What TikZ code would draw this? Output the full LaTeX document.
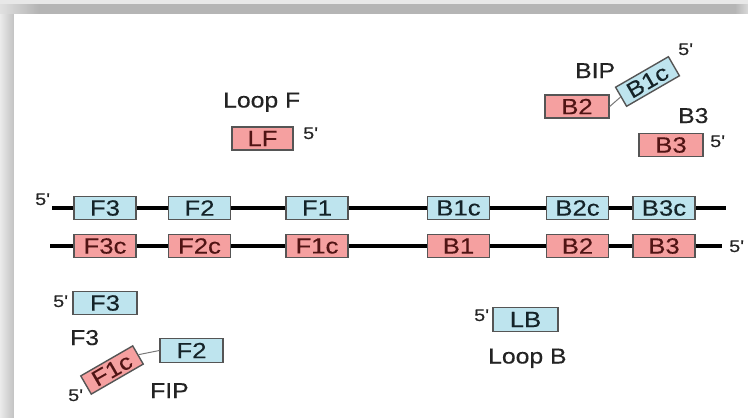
\documentclass[tikz,border=0pt]{standalone}
\usepackage{fontspec}
\setmainfont[FakeStretch=1.15,FakeBold=0.3]{Liberation Sans}
\newfontfamily\boxfont[FakeStretch=1.17,FakeBold=0.3]{Liberation Sans}
\definecolor{boxblue}{RGB}{190,228,238}
\definecolor{boxpink}{RGB}{245,160,160}
\definecolor{boxedge}{RGB}{85,85,85}
\definecolor{pinktext}{RGB}{80,20,20}
\definecolor{bluetext}{RGB}{20,35,40}
\definecolor{lbltext}{RGB}{35,35,35}
\begin{document}
\begin{tikzpicture}[x=1pt,y=-1pt,
  boxbase/.style={draw=boxedge,line width=1.4pt,minimum width=62pt,minimum height=23pt,inner sep=0pt,font=\boxfont\fontsize{22}{22}\selectfont},
  bluebox/.style={boxbase,fill=boxblue,text=bluetext},
  pinkbox/.style={boxbase,fill=boxpink,text=pinktext},
  lbl/.style={inner sep=0pt,anchor=base west,text=lbltext,font=\fontsize{21.5}{21.5}\selectfont},
  prime/.style={inner sep=0pt,anchor=base west,text=lbltext,font=\boxfont\fontsize{17}{17}\selectfont},
  strand/.style={line width=3.2pt,black},
  link/.style={draw=boxedge!80,line width=1pt}]
\useasboundingbox (0,0) rectangle (748,418);
% frame shadow
\fill[black!9] (0,0) rectangle (748,418);
\shade[left color=black!12,right color=black!30] (0,4) rectangle (40,14);
\fill[black!29] (40,4) rectangle (735,14);
\shade[left color=black!29,right color=black!15] (735,4) rectangle (748,14);
\shade[left color=black!8,right color=black!24] (0,14) rectangle (14,418);
\fill[white] (14,14) rectangle (748,418);

% strands
\coordinate (ts) at (52,208);
\coordinate (te) at (726,208);
\coordinate (bs) at (50,246);
\coordinate (be) at (722,246);
\draw[strand] (ts) -- (te);
\draw[strand] (bs) -- (be);
\node[prime] (p5a) at (35,205) {5'};
\node[prime] (p5b) at (729,252) {5'};

% top strand boxes
\node[bluebox] (tF3) at (105,208) {F3};
\node[bluebox] (tF2) at (199.5,208) {F2};
\node[bluebox] (tF1) at (317,208) {F1};
\node[bluebox] (tB1c) at (458.5,208) {B1c};
\node[bluebox] (tB2c) at (577.5,208) {B2c};
\node[bluebox] (tB3c) at (664,208) {B3c};
% bottom strand boxes
\node[pinkbox] (bF3c) at (105,246) {F3c};
\node[pinkbox] (bF2c) at (199.5,246) {F2c};
\node[pinkbox] (bF1c) at (317,246) {F1c};
\node[pinkbox] (bB1) at (458.5,246) {B1};
\node[pinkbox] (bB2) at (577.5,246) {B2};
\node[pinkbox] (bB3) at (664,246) {B3};

% Loop F
\node[lbl] (loopF) at (223,107.5) {Loop F};
\node[pinkbox,minimum width=61pt] (LF) at (262.5,138.5) {LF};
\node[prime] (p5LF) at (303,139) {5'};

% BIP
\node[lbl] (bip) at (575,78) {BIP};
\node[pinkbox,minimum width=64pt] (BIPB2) at (577,106.5) {B2};
\node[bluebox,rotate=30,minimum width=61pt,minimum height=22pt] (BIPB1c) at (647.5,81.5) {B1c};
\draw[link] (BIPB2.east) -- (BIPB1c.west);
\node[prime] (p5BIP) at (678,55) {5'};

% B3 primer
\node[lbl] (b3l) at (678,123) {B3};
\node[pinkbox,minimum width=64pt] (B3p) at (671,145) {B3};
\node[prime] (p5B3) at (710,147) {5'};

% F3 primer
\node[prime] (p5F3) at (53,307) {5'};
\node[bluebox,minimum width=64pt] (F3p) at (105,303) {F3};
\node[lbl] (f3l) at (70,345) {F3};

% FIP
\node[bluebox,minimum width=63pt,minimum height=24pt] (FIPF2) at (191.5,350.5) {F2};
\node[pinkbox,rotate=30,minimum width=60pt,minimum height=21pt] (FIPF1c) at (112,370) {F1c};
\draw[link] (FIPF1c.east) -- (FIPF2.west);
\node[prime] (p5FIP) at (68,401) {5'};
\node[lbl] (fip) at (150,398) {FIP};

% Loop B
\node[prime] (p5LB) at (474,321) {5'};
\node[bluebox,minimum width=65pt,minimum height=24pt] (LB) at (525.5,319.5) {LB};
\node[lbl] (loopB) at (488,363.5) {Loop B};
\end{tikzpicture}
\end{document}
